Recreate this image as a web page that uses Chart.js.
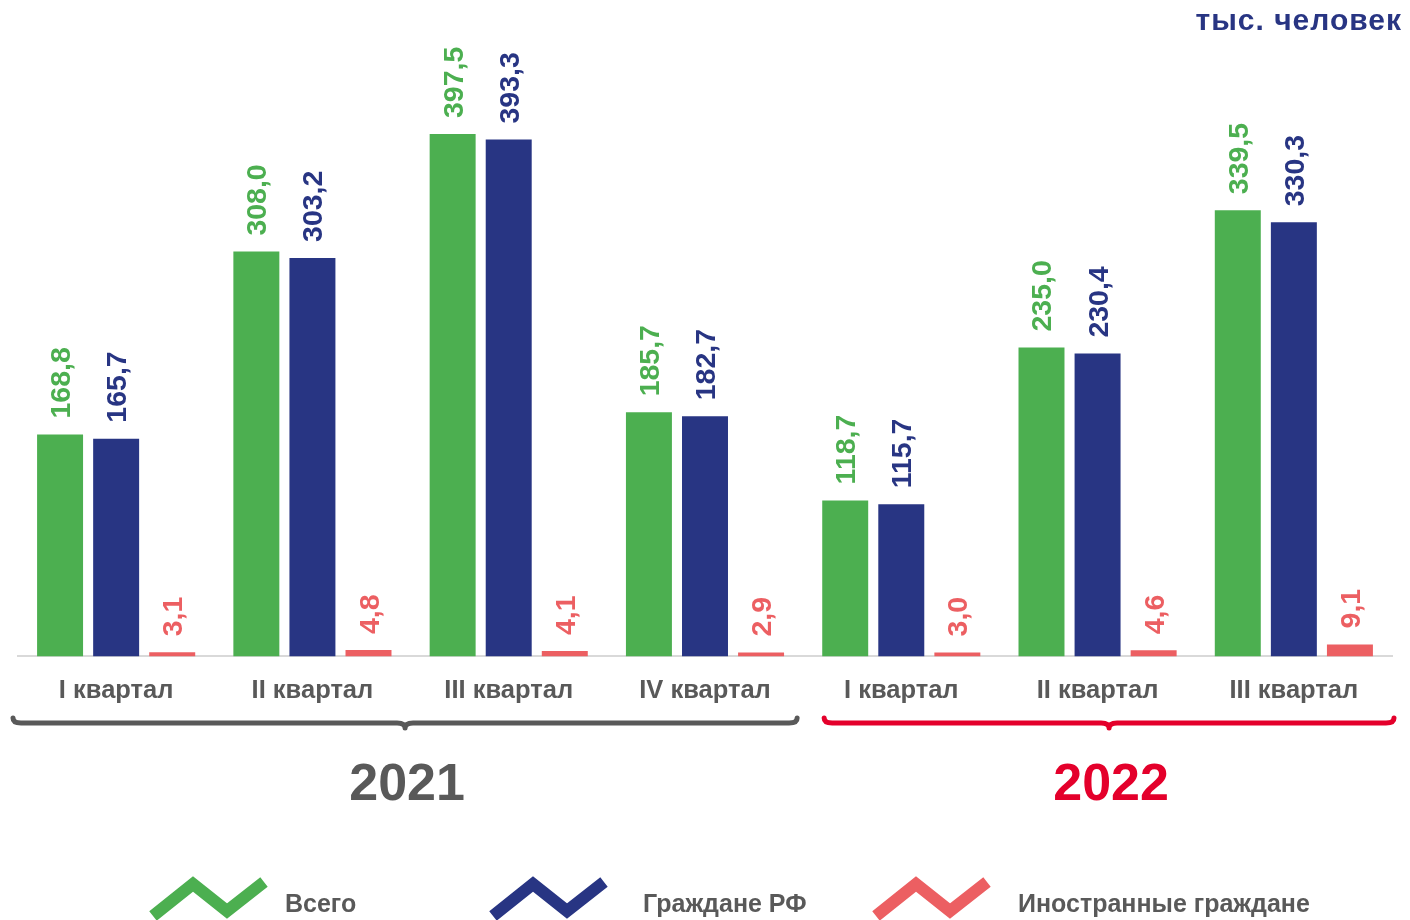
<!DOCTYPE html>
<html lang="ru">
<head>
<meta charset="utf-8">
<title>Численность</title>
<script src="https://cdn.jsdelivr.net/npm/chart.js@4.4.1/dist/chart.umd.min.js"></script>
<style>
  html, body { margin: 0; padding: 0; background: #ffffff; }
  #box { position: relative; width: 1410px; height: 920px; }
</style>
</head>
<body>
<div id="box"><canvas id="chart"></canvas></div>
<script>
// Кварталы и годы
const quarters = ["I квартал", "II квартал", "III квартал", "IV квартал", "I квартал", "II квартал", "III квартал"];
const years = ["2021", "2022"];
const yearFirst = [0, 4];
const yearLast = [3, 6];

// Значения, тыс. человек
const total = [168.8, 308.0, 397.5, 185.7, 118.7, 235.0, 339.5];
const citizens = [165.7, 303.2, 393.3, 182.7, 115.7, 230.4, 330.3];
const foreigners = [3.1, 4.8, 4.1, 2.9, 3.0, 4.6, 9.1];

const seriesNames = ["Всего", "Граждане РФ", "Иностранные граждане"];
const colors = ["#4caf50", "#283583", "#ec5f62"];
const yearColors = ["#595959", "#e4002b"];
const greyText = "#595959";
const font = "'Liberation Sans', Arial, sans-serif";

const fmt = (v) => v.toFixed(1).replace(".", ",");

// Подписи значений над столбцами (повернуты)
const valueLabels = {
    id: "valueLabels",
    afterDatasetsDraw(chart) {
        const ctx = chart.ctx;
        ctx.save();
        ctx.font = "bold 28.5px " + font;
        ctx.textAlign = "left";
        ctx.textBaseline = "alphabetic";
        chart.data.datasets.forEach((ds, i) => {
            const meta = chart.getDatasetMeta(i);
            meta.data.forEach((bar, j) => {
                ctx.save();
                ctx.translate(bar.x + 10, bar.y - 16);
                ctx.rotate(-Math.PI / 2);
                ctx.fillStyle = ds.backgroundColor;
                ctx.fillText(fmt(ds.data[j]), 0, 0);
                ctx.restore();
            });
        });
        ctx.restore();
    }
};

// Фигурные скобки, годы, легенда, единицы
const extras = {
    id: "extras",
    afterDraw(chart) {
        const ctx = chart.ctx;
        const x = chart.scales.x;
        const step = x.getPixelForValue(1) - x.getPixelForValue(0);
        ctx.save();

        // скобки
        const braceY = 723;
        const ends = [[-5, -6], [21, 2]];
        years.forEach((yr, k) => {
            const x1 = x.getPixelForValue(yearFirst[k]) - step / 2 + ends[k][0];
            const x2 = x.getPixelForValue(yearLast[k]) + step / 2 + ends[k][1];
            const mid = (x1 + x2) / 2;
            ctx.strokeStyle = yearColors[k];
            ctx.lineWidth = 5;
            ctx.lineCap = "round";
            ctx.lineJoin = "round";
            ctx.beginPath();
            ctx.moveTo(x1, braceY - 5);
            ctx.quadraticCurveTo(x1, braceY, x1 + 8, braceY);
            ctx.lineTo(mid - 8, braceY);
            ctx.quadraticCurveTo(mid, braceY, mid, braceY + 5);
            ctx.quadraticCurveTo(mid, braceY, mid + 8, braceY);
            ctx.lineTo(x2 - 8, braceY);
            ctx.quadraticCurveTo(x2, braceY, x2, braceY - 5);
            ctx.stroke();

            ctx.fillStyle = yearColors[k];
            ctx.font = "bold 52px " + font;
            ctx.textAlign = "center";
            ctx.textBaseline = "middle";
            ctx.fillText(yr, mid + 2, 786);
        });

        // легенда
        const iconX = [153, 493, 876];
        const textX = [285, 643, 1018];
        chart.data.datasets.forEach((ds, i) => {
            const x0 = iconX[i];
            ctx.strokeStyle = ds.backgroundColor;
            ctx.lineWidth = 12;
            ctx.lineJoin = "miter";
            ctx.lineCap = "butt";
            ctx.beginPath();
            ctx.moveTo(x0, 916);
            ctx.lineTo(x0 + 40, 884);
            ctx.lineTo(x0 + 74, 911);
            ctx.lineTo(x0 + 111, 882);
            ctx.stroke();
            ctx.fillStyle = greyText;
            ctx.font = "bold 25px " + font;
            ctx.textAlign = "left";
            ctx.textBaseline = "middle";
            ctx.fillText(ds.label, textX[i], 905);
        });

        // единицы
        ctx.fillStyle = colors[1];
        ctx.font = "bold 30px " + font;
        ctx.letterSpacing = "1px";
        ctx.textAlign = "right";
        ctx.textBaseline = "middle";
        ctx.fillText("тыс. человек", 1402, 22);

        ctx.restore();
    }
};

const series = [total, citizens, foreigners];

new Chart(document.getElementById("chart"), {
    type: "bar",
    data: {
        labels: quarters,
        datasets: series.map((s, i) => ({
            label: seriesNames[i],
            data: s,
            backgroundColor: colors[i],
            categoryPercentage: 0.857,
            barPercentage: 0.82
        }))
    },
    plugins: [valueLabels, extras],
    options: {
        responsive: true,
        maintainAspectRatio: false,
        animation: false,
        layout: { padding: { left: 18, right: 18, top: 65, bottom: 195 } },
        plugins: {
            legend: { display: false },
            tooltip: { enabled: false }
        },
        scales: {
            x: {
                grid: { display: false, drawTicks: false },
                border: { display: true, color: "#d9d9d9", width: 2 },
                ticks: {
                    color: greyText,
                    padding: 19,
                    font: { family: font, size: 25.5, weight: "bold" }
                }
            },
            y: {
                display: false,
                min: 0,
                max: 450
            }
        }
    }
});
</script>
</body>
</html>
